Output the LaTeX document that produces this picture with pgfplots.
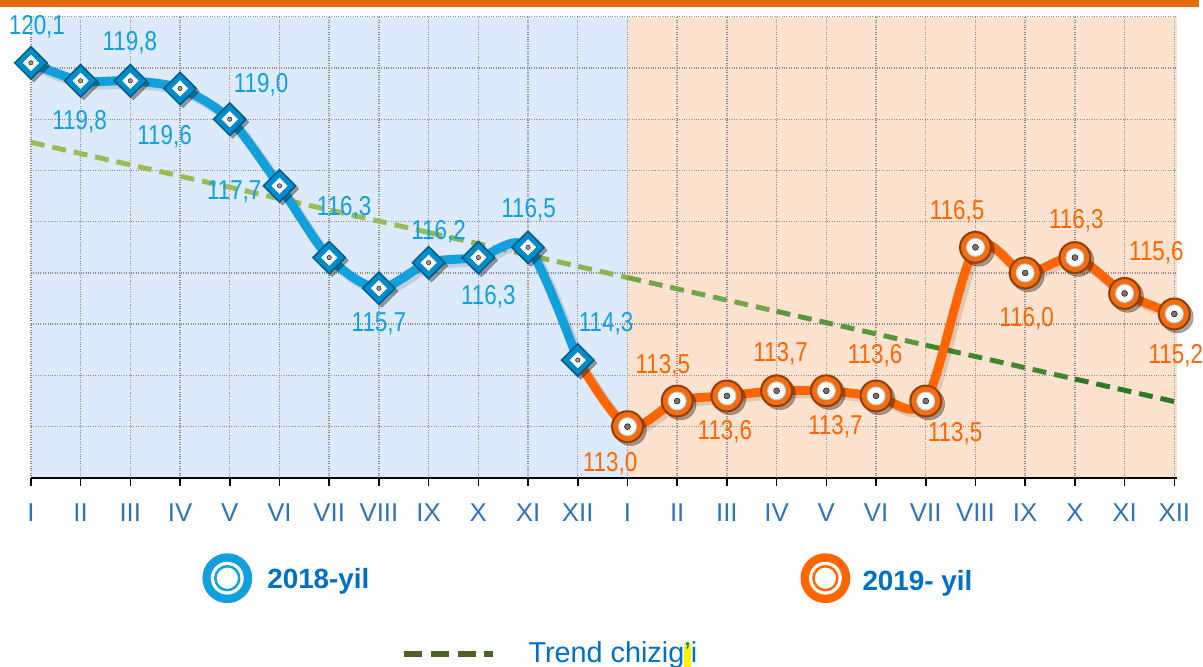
\documentclass[border=0pt]{standalone}
\usepackage{fontspec}
\setmainfont{Liberation Sans}
\newfontfamily\narrowfont[FakeStretch=0.82]{Liberation Sans}
\usepackage{pgfplots}
\pgfplotsset{compat=1.18}
\usepackage{pgfplotstable}

\definecolor{lineblue}{RGB}{17,160,220}
\definecolor{lineorange}{RGB}{255,102,0}
\definecolor{bgblue}{RGB}{220,234,250}
\definecolor{bgorange}{RGB}{253,226,207}
\definecolor{topbar}{RGB}{228,108,10}
\definecolor{ticktext}{RGB}{46,117,182}
\definecolor{legtext}{RGB}{0,112,192}
\definecolor{trA}{RGB}{155,187,89}
\definecolor{trB}{RGB}{140,180,85}
\definecolor{trC}{RGB}{115,165,75}
\definecolor{trD}{RGB}{90,150,60}
\definecolor{trE}{RGB}{65,135,45}
\definecolor{trF}{RGB}{45,120,35}
\definecolor{trendleg}{RGB}{79,98,40}
\definecolor{diamfill}{RGB}{0,140,200}
\definecolor{diamdraw}{RGB}{0,90,135}
\definecolor{ballfill}{RGB}{240,110,20}
\definecolor{balldraw}{RGB}{150,60,0}

\pgfplotstableread{
x y
0 120.1
1 119.75
2 119.75
3 119.6
4 119.0
5 117.7
6 116.3
7 115.7
8 116.2
9 116.3
10 116.5
11 114.3
}\dataA

\pgfplotstableread{
x y
11 114.3
12 113.0
13 113.5
14 113.6
15 113.7
16 113.7
17 113.6
18 113.5
19 116.5
20 116.0
21 116.3
22 115.6
23 115.2
}\dataB

\pgfplotstableread{
x y
12 113.0
13 113.5
14 113.6
15 113.7
16 113.7
17 113.6
18 113.5
19 116.5
20 116.0
21 116.3
22 115.6
23 115.2
}\dataBm

\tikzset{
  lb/.style={font=\narrowfont\fontsize{27.5}{27.5}\selectfont, text=lineblue, inner sep=0pt},
  lo/.style={font=\narrowfont\fontsize{27.5}{27.5}\selectfont, text=lineorange, inner sep=0pt},
  tr/.style={line width=5bp, dash pattern=on 14bp off 8bp},
}

\begin{document}
\begin{tikzpicture}
\begin{axis}[
  set layers,
  scale only axis,
  width=1149.5bp, height=462.6bp,
  xmin=0, xmax=23.05, ymin=112, ymax=121,
  axis x line=bottom, axis y line=left,
  x axis line style={-, black, line width=1.5bp},
  y axis line style={draw=none},
  xtick={0,...,23},
  xticklabels={I,II,III,IV,V,VI,VII,VIII,IX,X,XI,XII,I,II,III,IV,V,VI,VII,VIII,IX,X,XI,XII},
  ytick={112,...,121},
  yticklabels={},
  ytick style={draw=none},
  xtick style={black, line width=1.5bp},
  xtick align=outside,
  major tick length=8bp,
  grid=major,
  grid style={dotted, gray!90, line width=1.4bp},
  xticklabel style={font=\fontsize{26}{26}\selectfont, text=ticktext, anchor=base, yshift=-36bp},
  clip=false,
]
\begin{pgfonlayer}{axis background}
\fill[bgblue] (axis cs:0,112) rectangle (axis cs:12,121);
\fill[bgorange] (axis cs:12,112) rectangle (axis cs:23.05,121);
\end{pgfonlayer}
\coordinate (SW) at (rel axis cs:0,0);

% trend line
\addplot[tr, trA] coordinates {(0,118.55) (8,116.79)};
\addplot[tr, trB] coordinates {(8,116.79) (12,115.91)};
\addplot[tr, trC] coordinates {(12,115.91) (15,115.25)};
\addplot[tr, trD] coordinates {(15,115.25) (18,114.59)};
\addplot[tr, trE] coordinates {(18,114.59) (21,113.93)};
\addplot[tr, trF] coordinates {(21,113.93) (23,113.49)};

% line shadows
\addplot[black, opacity=0.12, line width=10bp, smooth, no markers, xshift=3bp, yshift=-3bp] table {\dataA};
\addplot[black, opacity=0.12, line width=10bp, smooth, no markers, xshift=3bp, yshift=-3bp] table {\dataB};
% lines
\addplot[lineblue, line width=9bp, smooth, no markers, line join=round] table {\dataA};
\addplot[lineorange, line width=9bp, smooth, no markers, line join=round] table {\dataB};

% diamond markers
\addplot[only marks, mark=square*, mark size=11.5bp, mark options={rotate=45, fill=black, draw=none, opacity=0.35}, xshift=3bp, yshift=-3bp] table {\dataA};
\addplot[only marks, mark=square*, mark size=11.5bp, mark options={rotate=45, fill=diamfill, draw=diamdraw, line width=1.5bp}] table {\dataA};
\addplot[only marks, mark=square*, mark size=5.5bp, mark options={rotate=45, fill=white, draw=white}] table {\dataA};
\addplot[only marks, mark=*, mark size=2.2bp, mark options={fill=gray!80, draw=none}] table {\dataA};

% ball markers
\addplot[only marks, mark=*, mark size=16bp, mark options={fill=black, draw=none, opacity=0.35}, xshift=3bp, yshift=-3bp] table {\dataBm};
\addplot[only marks, mark=*, mark size=15.5bp, mark options={fill=ballfill, draw=balldraw, line width=2bp}] table {\dataBm};
\addplot[only marks, mark=*, mark size=9bp, mark options={fill=white, draw=gray!40, line width=1bp}] table {\dataBm};
\addplot[only marks, mark=*, mark size=3bp, mark options={fill=gray!90!black, draw=none}] table {\dataBm};

% data labels 2018
\node[lb] at (axis cs:0.12,120.80) {120,1};
\node[lb] at (axis cs:0.98,118.96) {119,8};
\node[lb] at (axis cs:1.99,120.49) {119,8};
\node[lb] at (axis cs:2.69,118.66) {119,6};
\node[lb] at (axis cs:4.63,119.67) {119,0};
\node[lb] at (axis cs:4.09,117.59) {117,7};
\node[lb] at (axis cs:6.30,117.28) {116,3};
\node[lb] at (axis cs:7.00,115.00) {115,7};
\node[lb] at (axis cs:8.20,116.81) {116,2};
\node[lb] at (axis cs:9.20,115.53) {116,3};
\node[lb] at (axis cs:10.01,117.24) {116,5};
\node[lb] at (axis cs:11.57,115.00) {114,3};
% data labels 2019
\node[lo] at (axis cs:11.65,112.28) {113,0};
\node[lo] at (axis cs:12.71,114.19) {113,5};
\node[lo] at (axis cs:13.96,112.90) {113,6};
\node[lo] at (axis cs:15.08,114.42) {113,7};
\node[lo] at (axis cs:16.18,113.00) {113,7};
\node[lo] at (axis cs:16.98,114.38) {113,6};
\node[lo] at (axis cs:18.59,112.86) {113,5};
\node[lo] at (axis cs:18.63,117.20) {116,5};
\node[lo] at (axis cs:20.03,115.10) {116,0};
\node[lo] at (axis cs:21.03,117.01) {116,3};
\node[lo] at (axis cs:22.64,116.40) {115,6};
\node[lo] at (axis cs:23.03,114.38) {115,2};
\end{axis}

\path[use as bounding box] ([shift={(-31bp,-189.6bp)}]SW) rectangle ([shift={(1172bp,479.4bp)}]SW);
\fill[topbar] ([shift={(-31bp,472bp)}]SW) rectangle ([shift={(1172bp,479.4bp)}]SW);

% legend
\fill[lineblue] ([shift={(197bp,-100.6bp)}]SW) circle[radius=25bp];
\fill[white] ([shift={(197bp,-100.6bp)}]SW) circle[radius=16.5bp];
\draw[lineblue, line width=2.5bp] ([shift={(197bp,-100.6bp)}]SW) circle[radius=12bp];
\node[anchor=base west, inner sep=0pt, text=legtext, font=\bfseries\fontsize{28}{28}\selectfont] at ([shift={(237bp,-111bp)}]SW) {2018-yil};

\fill[lineorange] ([shift={(797bp,-100.6bp)}]SW) circle[radius=25bp];
\fill[white] ([shift={(797bp,-100.6bp)}]SW) circle[radius=16.5bp];
\draw[lineorange, line width=2.5bp] ([shift={(797bp,-100.6bp)}]SW) circle[radius=12bp];
\node[anchor=base west, inner sep=0pt, text=legtext, font=\bfseries\fontsize{28}{28}\selectfont] at ([shift={(834bp,-113bp)}]SW) {2019- yil};

\draw[trendleg, line width=6bp, dash pattern=on 18bp off 9bp] ([shift={(374bp,-176.6bp)}]SW) -- ([shift={(464bp,-176.6bp)}]SW);
\node[anchor=base west, inner sep=0pt, text=legtext, font=\fontsize{29}{29}\selectfont] at ([shift={(499bp,-185.6bp)}]SW) {Trend chizig{\setlength\fboxsep{0pt}\colorbox{yellow}{\vphantom{Tg}’}}i};
\end{tikzpicture}
\end{document}
